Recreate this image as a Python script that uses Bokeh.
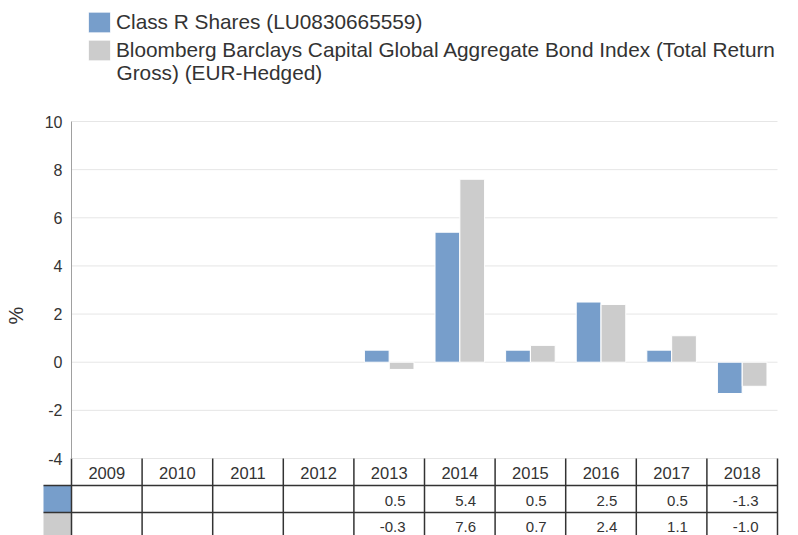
from bokeh.plotting import figure
from bokeh.models import Range1d, FixedTicker, Legend, LegendItem, ColumnDataSource, LinearAxis
from bokeh.transform import dodge
from bokeh.embed import file_html
from bokeh.resources import INLINE
from bokeh.core.properties import value

# ---- data ----
years = ["2009", "2010", "2011", "2012", "2013", "2014", "2015", "2016", "2017", "2018"]
fund = [None, None, None, None, 0.5, 5.4, 0.5, 2.5, 0.5, -1.3]
index = [None, None, None, None, -0.3, 7.6, 0.7, 2.4, 1.1, -1.0]
fund_name = "Class R Shares (LU0830665559)"
index_name = "Bloomberg Barclays Capital Global Aggregate Bond Index (Total Return"
index_name_cont = "Gross) (EUR-Hedged)"
y_ticks = [-4, -2, 0, 2, 4, 6, 8, 10]

BLUE = "#779ecb"
GRAY = "#cccccc"
TXT = "#333333"
LINE = "#333333"
FONT = "Liberation Sans"

W, H = 798, 535
# layout: pixel positions of the plot area (x: 0..10 categories, y: -4..10)
PX_L, PX_R = 71.0, 777.0
PY_T, PY_B = 121.0, 458.0
XS = (PX_R - PX_L) / len(years)
YS = (PY_B - PY_T) / 14.0

def px2x(px):
    return (px - PX_L) / XS

def py2y(py):
    return 10 - (py - PY_T) / YS

def nz(v):
    return float("nan") if v is None else v

p = figure(width=W, height=H, x_range=Range1d(px2x(0), px2x(W)), y_range=Range1d(py2y(H), py2y(0)),
           output_backend="svg", toolbar_location=None, tools="",
           x_axis_location=None, y_axis_location=None,
           min_border=0, min_border_left=0, min_border_right=0, min_border_top=0, min_border_bottom=0)
p.outline_line_color = None
p.grid.visible = False

n = len(years)
# grid lines
p.segment(x0=[0] * len(y_ticks), x1=[n] * len(y_ticks), y0=y_ticks, y1=y_ticks,
          line_color="#e6e6e6", line_width=1)

# y axis inside the frame at x = 0
ax = LinearAxis(fixed_location=0, ticker=FixedTicker(ticks=y_ticks), bounds=(-4, 10))
ax.axis_line_color = "#a0a0a0"
ax.major_tick_line_color = None
ax.minor_tick_line_color = None
ax.major_tick_out = 0
ax.major_tick_in = 0
ax.major_label_text_font = FONT
ax.major_label_text_font_size = "16px"
ax.major_label_text_color = TXT
ax.major_label_standoff = 9
ax.major_label_overrides = {t: str(t) for t in y_ticks}
p.add_layout(ax, "left")

# y axis title
p.text(x=[px2x(15)], y=[py2y(315)], text=["%"], angle=1.5708, text_align="center",
       text_baseline="middle", text_font=value(FONT), text_font_size="20px", text_color=TXT)

# bars
centers = [i + 0.5 for i in range(n)]
src = ColumnDataSource(dict(c=centers, fund=[nz(v) for v in fund], index=[nz(v) for v in index]))
bw = 0.35
r1 = p.vbar(x=dodge("c", -0.176), top="fund", bottom=0, width=bw, source=src, fill_color=BLUE,
            line_color="white", line_width=1)
r2 = p.vbar(x=dodge("c", 0.176), top="index", bottom=0, width=bw, source=src, fill_color=GRAY,
            line_color="white", line_width=1)

# legend
legend = Legend(items=[LegendItem(label=fund_name, renderers=[r1]),
                       LegendItem(label=index_name, renderers=[r2])],
                location=(85, H - 63), orientation="vertical")
legend.label_text_font = FONT
legend.label_text_font_size = "20.8px"
legend.label_text_color = TXT
legend.glyph_width = 28
legend.glyph_height = 26
legend.spacing = 2
legend.padding = 0
legend.margin = 0
legend.label_standoff = 3
legend.border_line_color = None
legend.background_fill_alpha = 0
p.add_layout(legend)
# wrapped continuation of the second legend label
p.text(x=[px2x(116)], y=[py2y(72)], text=[index_name_cont], text_align="left",
       text_baseline="middle", text_font=value(FONT), text_font_size="20.8px", text_color=TXT)

# ---- data table below the plot ----
ROW_TOPS = [458.0, 485.0, 512.0, 540.0]
sw_left = px2x(43)
yb = [py2y(v) for v in ROW_TOPS]
# swatches
p.quad(left=[sw_left, sw_left], right=[0, 0], top=[yb[1], yb[2]], bottom=[yb[2], yb[3]],
       fill_color=[BLUE, GRAY], line_color=None)
# vertical lines
xs = list(range(n + 1))
p.segment(x0=xs, x1=xs, y0=[yb[0]] * len(xs), y1=[yb[3]] * len(xs), line_color=LINE, line_width=1.5)
# horizontal lines
p.segment(x0=[sw_left, sw_left], x1=[n, n], y0=[yb[1], yb[2]], y1=[yb[1], yb[2]],
          line_color=LINE, line_width=1.5)

def fmt(v):
    return "" if v is None else f"{v:.1f}"

p.text(x=centers, y=[py2y(472.5)] * n, text=years, text_align="center", text_baseline="middle",
       text_font=value(FONT), text_font_size="16.5px", text_color=TXT)
rights = [i + 1 - 19 / XS for i in range(n)]
p.text(x=rights, y=[py2y(500)] * n, text=[fmt(v) for v in fund], text_align="right",
       text_baseline="middle", text_font=value(FONT), text_font_size="15px", text_color=TXT)
p.text(x=rights, y=[py2y(526)] * n, text=[fmt(v) for v in index], text_align="right",
       text_baseline="middle", text_font=value(FONT), text_font_size="15px", text_color=TXT)

open("out.html", "w").write(file_html(p, INLINE))
